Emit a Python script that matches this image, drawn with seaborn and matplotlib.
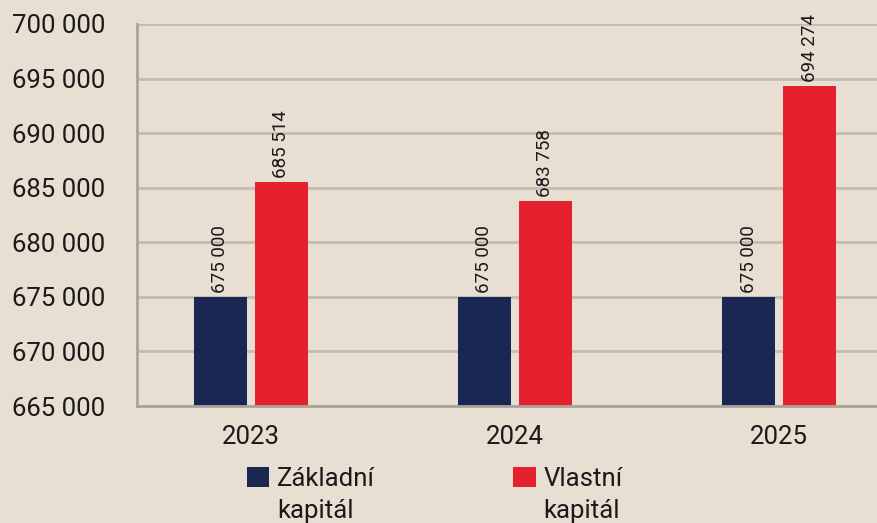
import pandas as pd
import matplotlib.pyplot as plt
import seaborn as sns

years = ['2023', '2024', '2025']
zakladni = [675000, 675000, 675000]
vlastni = [685514, 683758, 694274]
series_names = ['Základní\nkapitál', 'Vlastní\nkapitál']
y_ticks = list(range(665000, 700001, 5000))

df = pd.DataFrame({
    'Rok': years * 2,
    'Hodnota': zakladni + vlastni,
    'Typ': [series_names[0]] * 3 + [series_names[1]] * 3,
})

bg = '#E8DED2'
grid_col = '#C4BCB2'
spine_col = '#A9A39B'
txt_col = '#1A1A1A'

sns.set_style('white')
plt.rcParams['font.family'] = ['Roboto', 'DejaVu Sans']

fig = plt.figure(figsize=(8.77, 5.23), dpi=100, facecolor=bg)
ax = fig.add_axes([0.156, 0.2237, 0.844, 0.7305])
ax.set_facecolor(bg)

sns.barplot(data=df, x='Rok', y='Hodnota', hue='Typ',
            palette=['#1B2753', '#E4212D'], width=0.462, gap=0.134,
            saturation=1, linewidth=0, ax=ax, legend=True)

ax.set_ylim(665000, 700000)
ax.set_xlim(-0.432, 2.371)
ax.set_yticks(y_ticks)
ax.set_yticklabels([f'{v:,}'.replace(',', ' ') for v in y_ticks],
                   fontsize=18.5, color=txt_col)
ax.set_xticks(range(len(years)))
ax.set_xticklabels(years, fontsize=18.5, color=txt_col)
ax.set_xlabel('')
ax.set_ylabel('')

ax.grid(axis='y', color=grid_col, linewidth=2)
ax.set_axisbelow(True)
ax.tick_params(axis='y', length=11, width=2, color=grid_col, pad=11.5)
ax.tick_params(axis='x', length=6, width=2, color=spine_col, pad=8)
for side in ['top', 'right']:
    ax.spines[side].set_visible(False)
for side in ['left', 'bottom']:
    ax.spines[side].set_color(spine_col)
    ax.spines[side].set_linewidth(2)

for cont in ax.containers:
    vals = [int(b.get_height()) for b in cont]
    ax.bar_label(cont, labels=[f'{v:,}'.replace(',', ' ') for v in vals],
                 rotation=90, padding=3, fontsize=13.5, color=txt_col)

ax.get_legend().remove()
handles, labels = ax.get_legend_handles_labels()
leg = fig.legend(handles, labels, loc='upper left', bbox_to_anchor=(0.267, 0.132),
                 ncol=2, frameon=False, handlelength=0.86,
                 handleheight=0.86, handletextpad=0.3, columnspacing=5.4,
                 borderpad=0, prop={'size': 18.5})
for t in leg.get_texts():
    t.set_linespacing(1.45)
    t.set_color(txt_col)
# put the square next to the first line of the label
for col in leg._legend_handle_box.get_children():
    for item in col.get_children():
        item.align = 'top'

fig.savefig('out.png', dpi=100, facecolor=bg)
